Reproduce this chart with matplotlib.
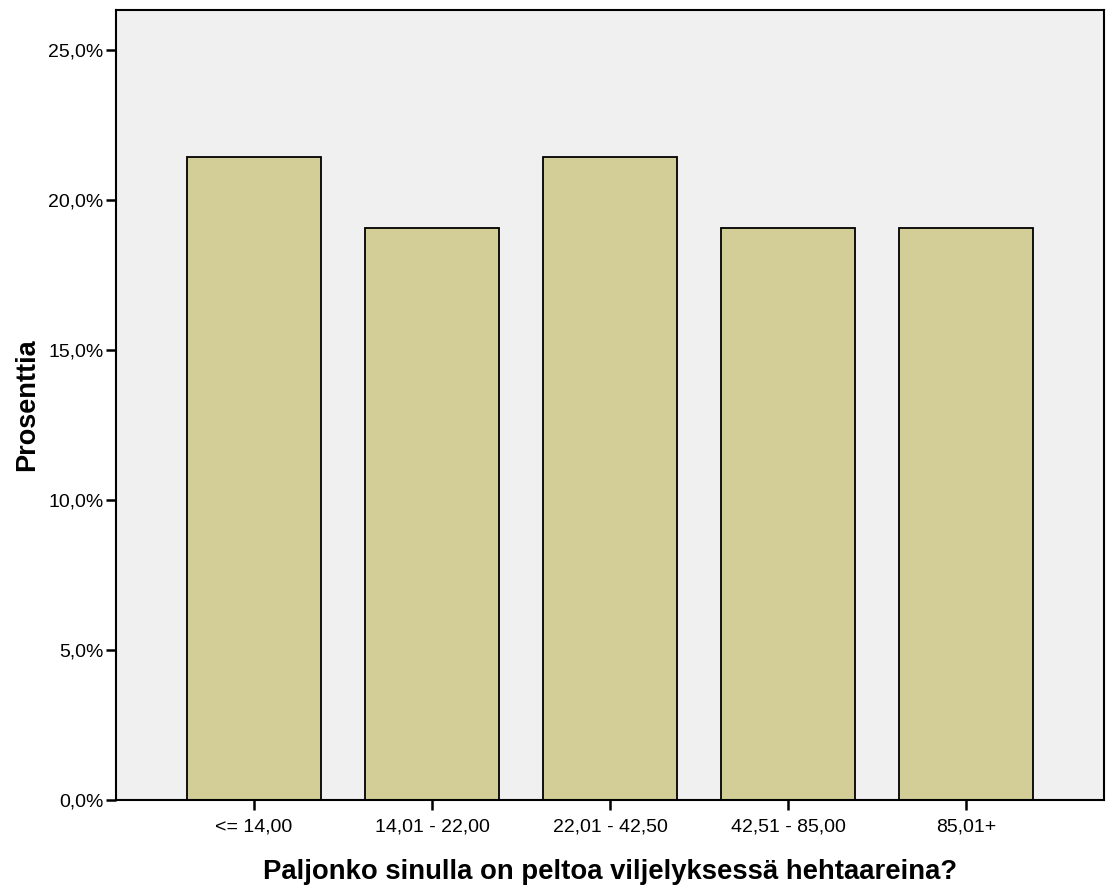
import matplotlib.pyplot as plt
from matplotlib.ticker import FuncFormatter

plt.rcParams['font.family'] = ['Liberation Sans', 'DejaVu Sans']

# data (percent of respondents)
categories = ['<= 14,00', '14,01 - 22,00', '22,01 - 42,50', '42,51 - 85,00', '85,01+']
percents = [21.43, 19.05, 21.43, 19.05, 19.05]

fig = plt.figure(figsize=(11.07, 8.86), dpi=100)
ax = fig.add_axes([116 / 1107, 86 / 886, 988 / 1107, 790 / 886])
ax.set_facecolor('#f0f0f0')

x = range(len(categories))
ax.bar(x, percents, width=0.75, color='#d3ce98', edgecolor='black', linewidth=1.3, zorder=2)

ax.set_xlim(-0.775, len(categories) - 1 + 0.775)
ax.set_ylim(0, 26.33)
ax.set_yticks([0, 5, 10, 15, 20, 25])
ax.yaxis.set_major_formatter(FuncFormatter(lambda v, p: f'{v:.1f}%'.replace('.', ',')))
ax.set_xticks(list(x))
ax.set_xticklabels(categories)

for s in ax.spines.values():
    s.set_linewidth(1.5)
ax.tick_params(axis='both', direction='out', length=7, width=1.8, labelsize=14, colors='black')
ax.tick_params(axis='x', pad=6)
ax.tick_params(axis='y', pad=2)

ax.set_xlabel('Paljonko sinulla on peltoa viljelyksessä hehtaareina?', fontsize=19.8, fontweight='bold', labelpad=17)
ax.set_ylabel('Prosenttia', fontsize=19.5, fontweight='bold', labelpad=6)

fig.savefig('out.png', dpi=100)
